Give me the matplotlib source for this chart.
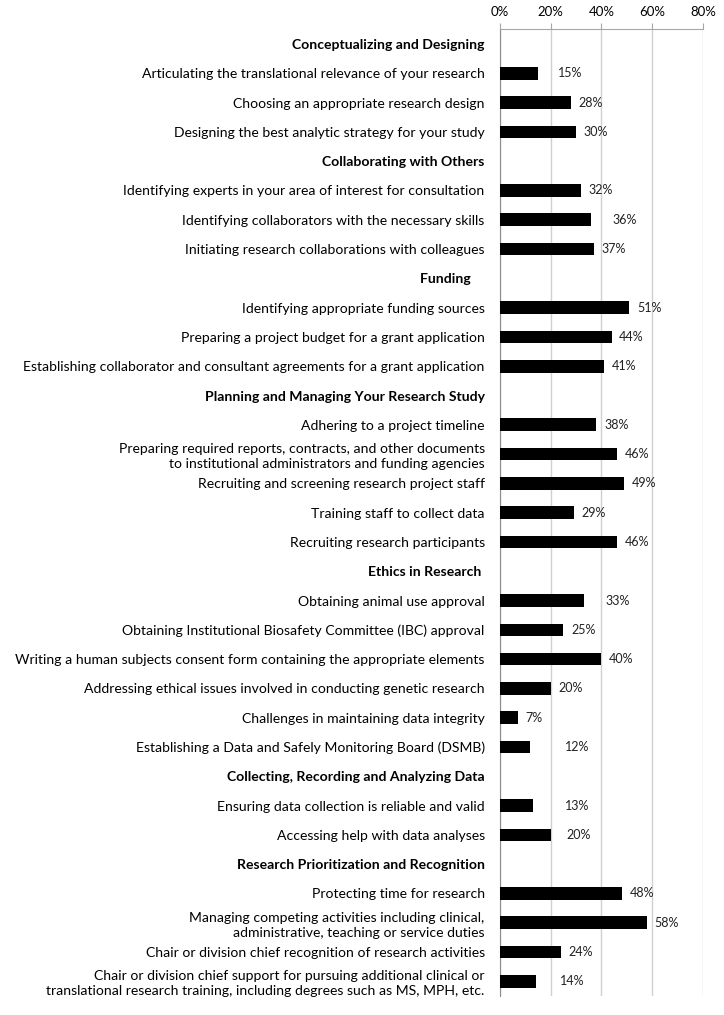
import matplotlib
matplotlib.use("Agg")
import matplotlib.pyplot as plt

plt.rcParams["font.family"] = ["Lato", "DejaVu Sans"]

# rows top to bottom; None value marks a section header
labels = [
    "Conceptualizing and Designing",
    "Articulating the translational relevance of your research",
    "Choosing an appropriate research design",
    "Designing the best analytic strategy for your study",
    "Collaborating with Others",
    "Identifying experts in your area of interest for consultation",
    "Identifying collaborators with the necessary skills",
    "Initiating research collaborations with colleagues",
    "Funding    ",
    "Identifying appropriate funding sources",
    "Preparing a project budget for a grant application",
    "Establishing collaborator and consultant agreements for a grant application",
    "Planning and Managing Your Research Study",
    "Adhering to a project timeline",
    "Preparing required reports, contracts, and other documents\nto institutional administrators and funding agencies",
    "Recruiting and screening research project staff",
    "Training staff to collect data",
    "Recruiting research participants",
    "Ethics in Research ",
    "Obtaining animal use approval",
    "Obtaining Institutional Biosafety Committee (IBC) approval",
    "Writing a human subjects consent form containing the appropriate elements",
    "Addressing ethical issues involved in conducting genetic research",
    "Challenges in maintaining data integrity",
    "Establishing a Data and Safely Monitoring Board (DSMB)",
    "Collecting, Recording and Analyzing Data",
    "Ensuring data collection is reliable and valid",
    "Accessing help with data analyses",
    "Research Prioritization and Recognition",
    "Protecting time for research",
    "Managing competing activities including clinical,\nadministrative, teaching or service duties",
    "Chair or division chief recognition of research activities",
    "Chair or division chief support for pursuing additional clinical or\ntranslational research training, including degrees such as MS, MPH, etc.",
]
values = [
    None, 15, 28, 30,
    None, 32, 36, 37,
    None, 51, 44, 41,
    None, 38, 46, 49, 29, 46,
    None, 33, 25, 40, 20, 7, 12,
    None, 13, 20,
    None, 48, 58, 24, 14,
]
# gap between bar end and its value label (percentage points), as placed in the original
label_gap = [
    None, 8, 3, 3,
    None, 3, 8.5, 3,
    None, 3, 3, 3,
    None, 3, 3, 3, 3, 3,
    None, 8.5, 3, 3, 3, 3, 13.5,
    None, 12.5, 6,
    None, 3, 3, 3, 9.5,
]

fig = plt.figure(figsize=(7.24, 10.15), dpi=100)
ax = fig.add_axes([0.6906, 0.0187, 0.2804, 0.9524])

pos = list(range(len(labels)))
for i, (v, g) in enumerate(zip(values, label_gap)):
    if v is None:
        continue
    ax.barh(i, v, height=0.43, color="black", zorder=3)
    ax.text(v + g, i, f"{v}%", va="center", ha="left", fontsize=9, color="#222222")

ax.set_xlim(0, 80)
ax.set_ylim(len(labels) - 0.5, -0.5)
ax.set_xticks([0, 20, 40, 60, 80])
ax.set_xticklabels([f"{t}%" for t in [0, 20, 40, 60, 80]], fontsize=9.5)
ax.xaxis.tick_top()
ax.tick_params(axis="x", length=4, color="#a6a6a6", pad=4)
ax.grid(axis="x", color="#d0d0d0", linewidth=1, zorder=0)

ax.set_yticks(pos)
ax.set_yticklabels(labels, fontsize=10.1, linespacing=1.3)
ax.tick_params(axis="y", length=0, pad=11)
for lbl, v in zip(ax.get_yticklabels(), values):
    if v is None:
        lbl.set_fontweight("bold")

for side in ("right", "bottom"):
    ax.spines[side].set_visible(False)
ax.spines["top"].set_color("#a6a6a6")
ax.spines["left"].set_color("#8c8c8c")

fig.savefig("out.png", dpi=100)
